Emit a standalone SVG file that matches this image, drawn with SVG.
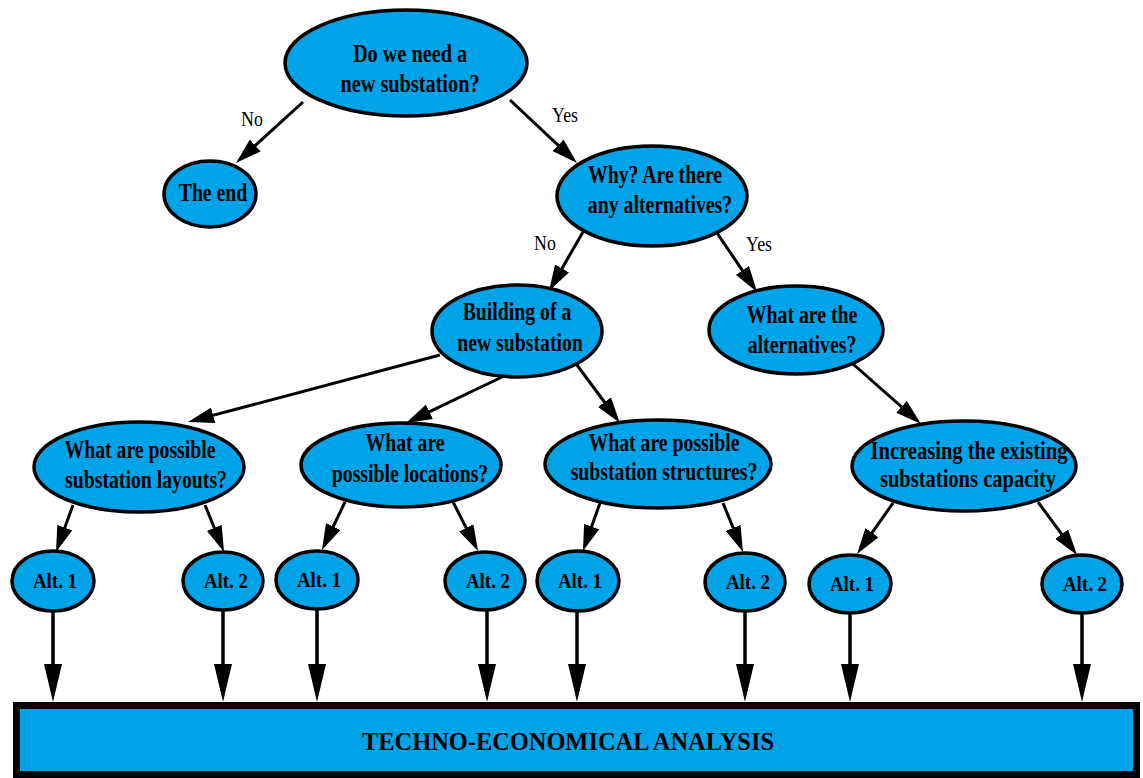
<svg xmlns="http://www.w3.org/2000/svg" width="1143" height="778" viewBox="0 0 1143 778">
<style>
.n{fill:#00a2e8;stroke:#000;stroke-width:3.5}
.t{font-family:"Liberation Serif","Times New Roman",serif;font-weight:bold;font-size:26px;text-anchor:middle;fill:#000}
.s{font-family:"Liberation Serif","Times New Roman",serif;font-weight:bold;font-size:22px;text-anchor:middle;fill:#000}
.l{font-family:"Liberation Serif","Times New Roman",serif;font-size:21px;text-anchor:middle;fill:#000}
.e{stroke:#000;stroke-width:3;fill:none;marker-end:url(#ah)}
.v{stroke:#000;stroke-width:3.5;fill:none;marker-end:url(#av)}
</style>
<defs>
<marker id="ah" markerUnits="userSpaceOnUse" markerWidth="26" markerHeight="16" refX="16" refY="8" orient="auto"><path d="M0,0 L26,8 L0,16 Z" fill="#000"/></marker>
<marker id="av" markerUnits="userSpaceOnUse" markerWidth="38" markerHeight="18" refX="28" refY="9" orient="auto"><path d="M0,0 L38,9 L0,18 Z" fill="#000"/></marker>
</defs>
<rect width="1143" height="778" fill="#fff"/>
<g id="connectors">
<line class="e" x1="303" y1="102" x2="243.4" y2="156.3"/>
<line class="e" x1="510" y1="100" x2="569.7" y2="156.2"/>
<line class="e" x1="583" y1="232" x2="554" y2="282.3"/>
<line class="e" x1="717" y1="233" x2="751.4" y2="283.7"/>
<line class="e" x1="440" y1="355" x2="197.7" y2="419.4"/>
<line class="e" x1="502" y1="377" x2="415" y2="418.7"/>
<line class="e" x1="577" y1="365" x2="614" y2="415"/>
<line class="e" x1="853" y1="364" x2="913.5" y2="417.4"/>
<line class="e" x1="73" y1="505" x2="59.4" y2="542.6"/>
<line class="e" x1="205" y1="505" x2="220.3" y2="542.7"/>
<line class="e" x1="345" y1="502" x2="326.3" y2="541"/>
<line class="e" x1="453" y1="502" x2="473.5" y2="542.1"/>
<line class="e" x1="600" y1="503" x2="586.3" y2="541.6"/>
<line class="e" x1="723" y1="503" x2="739.2" y2="542.7"/>
<line class="e" x1="893" y1="503" x2="862.8" y2="545.8"/>
<line class="e" x1="1038" y1="502" x2="1071.1" y2="547"/>
<line class="v" x1="53" y1="611" x2="53" y2="692"/>
<line class="v" x1="223" y1="610" x2="223" y2="692"/>
<line class="v" x1="317" y1="609" x2="317" y2="692"/>
<line class="v" x1="487" y1="610" x2="487" y2="692"/>
<line class="v" x1="577" y1="611" x2="577" y2="692"/>
<line class="v" x1="745" y1="611" x2="745" y2="692"/>
<line class="v" x1="850" y1="613" x2="850" y2="692"/>
<line class="v" x1="1082" y1="613" x2="1082" y2="692"/>
<text class="l" transform="translate(252,0) scale(0.85,1)" y="126">No</text>
<text class="l" transform="translate(565,0) scale(0.85,1)" y="122">Yes</text>
<text class="l" transform="translate(545,0) scale(0.85,1)" y="250">No</text>
<text class="l" transform="translate(759,0) scale(0.85,1)" y="251">Yes</text>
</g>
<g id="q-new">
<ellipse class="n" cx="406" cy="63" rx="121" ry="53"/>
<text class="t" transform="translate(410,0) scale(0.78,1)" y="62">Do we need a</text>
<text class="t" transform="translate(410,0) scale(0.78,1)" y="92">new substation?</text>
</g>
<g id="the-end">
<ellipse class="n" cx="210" cy="194" rx="46" ry="33"/>
<text class="t" transform="translate(213,0) scale(0.76,1)" y="201">The end</text>
</g>
<g id="q-why">
<ellipse class="n" cx="652" cy="196" rx="95" ry="50"/>
<text class="t" transform="translate(655,0) scale(0.76,1)" y="183">Why? Are there</text>
<text class="t" transform="translate(660,0) scale(0.76,1)" y="213">any alternatives?</text>
</g>
<g id="building">
<ellipse class="n" cx="517" cy="331" rx="85" ry="46"/>
<text class="t" transform="translate(517,0) scale(0.76,1)" y="320">Building of a</text>
<text class="t" transform="translate(520,0) scale(0.76,1)" y="351">new substation</text>
</g>
<g id="q-alternatives">
<ellipse class="n" cx="796" cy="330" rx="87" ry="44"/>
<text class="t" transform="translate(802,0) scale(0.76,1)" y="323">What are the</text>
<text class="t" transform="translate(802,0) scale(0.76,1)" y="353">alternatives?</text>
</g>
<g id="q-layouts">
<ellipse class="n" cx="139" cy="467" rx="105" ry="45"/>
<text class="t" transform="translate(140,0) scale(0.76,1)" y="458">What are possible</text>
<text class="t" transform="translate(146,0) scale(0.76,1)" y="488">substation layouts?</text>
</g>
<g id="q-locations">
<ellipse class="n" cx="401" cy="465" rx="100" ry="42"/>
<text class="t" transform="translate(405,0) scale(0.76,1)" y="451">What are</text>
<text class="t" transform="translate(410,0) scale(0.76,1)" y="482">possible locations?</text>
</g>
<g id="q-structures">
<ellipse class="n" cx="658" cy="464" rx="113" ry="44"/>
<text class="t" transform="translate(664,0) scale(0.76,1)" y="451">What are possible</text>
<text class="t" transform="translate(664,0) scale(0.76,1)" y="480">substation structures?</text>
</g>
<g id="increasing">
<ellipse class="n" cx="964" cy="466" rx="112" ry="45"/>
<text class="t" font-size="25" transform="translate(969,0) scale(0.79,1)" y="459">Increasing the existing</text>
<text class="t" font-size="25" transform="translate(968,0) scale(0.79,1)" y="487">substations capacity</text>
</g>
<g id="alt-1a"><ellipse class="n" cx="53" cy="581" rx="41" ry="30"/><text class="s" transform="translate(55,0) scale(0.86,1)" y="588">Alt. 1</text></g>
<g id="alt-2a"><ellipse class="n" cx="223" cy="581" rx="40" ry="29"/><text class="s" transform="translate(226,0) scale(0.86,1)" y="588">Alt. 2</text></g>
<g id="alt-1b"><ellipse class="n" cx="317" cy="580" rx="41" ry="29"/><text class="s" transform="translate(319,0) scale(0.86,1)" y="587">Alt. 1</text></g>
<g id="alt-2b"><ellipse class="n" cx="485" cy="581" rx="40" ry="29"/><text class="s" transform="translate(488,0) scale(0.86,1)" y="588">Alt. 2</text></g>
<g id="alt-1c"><ellipse class="n" cx="578" cy="581" rx="41" ry="30"/><text class="s" transform="translate(580,0) scale(0.86,1)" y="588">Alt. 1</text></g>
<g id="alt-2c"><ellipse class="n" cx="745" cy="582" rx="40" ry="29"/><text class="s" transform="translate(748,0) scale(0.86,1)" y="589">Alt. 2</text></g>
<g id="alt-1d"><ellipse class="n" cx="850" cy="584" rx="41" ry="29"/><text class="s" transform="translate(852,0) scale(0.86,1)" y="591">Alt. 1</text></g>
<g id="alt-2d"><ellipse class="n" cx="1082" cy="584" rx="40" ry="29"/><text class="s" transform="translate(1085,0) scale(0.86,1)" y="591">Alt. 2</text></g>
<g id="analysis">
<rect x="16.5" y="705.5" width="1120" height="69" fill="#00a2e8" stroke="#000" stroke-width="7"/>
<text class="t" x="568" y="750" font-size="27" textLength="412" lengthAdjust="spacingAndGlyphs">TECHNO-ECONOMICAL ANALYSIS</text>
</g>
</svg>
